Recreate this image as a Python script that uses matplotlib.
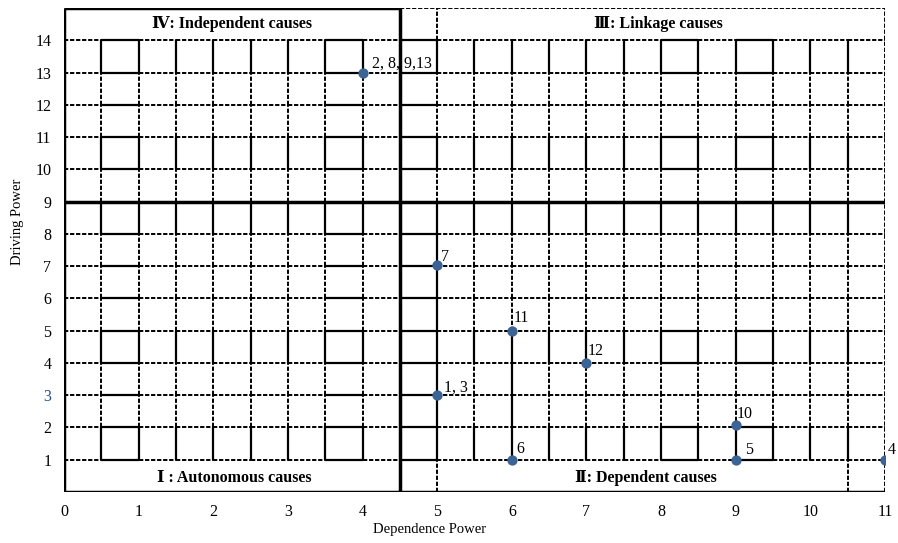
import matplotlib.pyplot as plt

# MICMAC style driving / dependence map
dependence = [4, 5, 6, 7, 5, 9, 6, 9, 11]
driving = [13, 7.05, 5, 4, 3, 2.08, 1, 1, 1]
point_labels = ["2, 8, 9,13", "7", "11", "12", "1, 3", "10", "6", "5", "4"]
label_offsets = [(7, 1), (3, 0), (1, 3), (1, 3), (5, 0), (1, 2), (3, 2), (7, 1), (2, 1)]

x_ticks = list(range(0, 12))
y_ticks = list(range(1, 15))

quadrants = ["Ⅳ: Independent causes", "Ⅲ: Linkage causes",
             "Ⅰ : Autonomous causes", "Ⅱ: Dependent causes"]
quadrant_pos = [(2.25, 14.5), (7.97, 14.5), (2.28, 0.42), (7.8, 0.42)]

SERIF = ["Liberation Serif", "DejaVu Serif", "DejaVu Sans"]
DASH = (0, (2.2, 0.9))

# table-like grid: which pieces are drawn solid
v_lines = [0.5 * k for k in range(1, 22) if k != 9]
solid_rows = [13, 10, 8, 4, 1]          # row band starting at y
h_lines = [y for y in range(1, 15) if y != 9]
solid_cols_all = [0.5, 3.5, 4.5]        # column band starting at x, every row
solid_cols_some = [8.0, 9.0]
solid_y_some = [14, 13, 11, 10, 5, 4, 2, 1]


def seg(ax, x0, y0, x1, y1, solid, lw):
    ax.plot([x0, x1], [y0, y1], color="black", lw=lw,
            ls="-" if solid else DASH,
            solid_capstyle="butt", dash_capstyle="butt", zorder=2)


fig = plt.figure(figsize=(8.98, 5.43), dpi=100)
ax = fig.add_axes([64 / 898, 1 - 492 / 543, (885 - 64) / 898, (492 - 8) / 543])
ax.set_xlim(0, 11)
ax.set_ylim(0, 15)
for s in ax.spines.values():
    s.set_visible(False)

# vertical grid
for x in v_lines:
    for r in range(1, 14):
        solid = r in solid_rows or (x == 5.0 and r < 9) or (x == 6.0 and r < 5)
        seg(ax, x, r, x, r + 1, solid, 1.6 if solid else 1.4)
seg(ax, 5, 14, 5, 15, False, 1.4)
seg(ax, 5, 0, 5, 1, False, 1.4)
seg(ax, 10.5, 0, 10.5, 1, False, 1.4)

# horizontal grid
for y in h_lines:
    for k in range(22):
        c = 0.5 * k
        solid = c in solid_cols_all or (c in solid_cols_some and y in solid_y_some)
        seg(ax, c, y, c + 0.5, y, solid, 1.6 if solid else 1.4)

# frame and quadrant dividers
seg(ax, 0, 0, 0, 15, True, 2.5)
seg(ax, 0, 0, 11, 0, True, 2.5)
seg(ax, 0, 15, 4.5, 15, True, 2.5)
seg(ax, 4.5, 15, 11, 15, False, 1.4)
seg(ax, 11, 0, 11, 15, False, 1.4)
seg(ax, 4.5, 0, 4.5, 15, True, 2.5)
seg(ax, 0, 9, 11, 9, True, 2.5)

ax.scatter(dependence, driving, s=55, color="#3B6396", zorder=5, linewidths=0)
for xv, yv, t, off in zip(dependence, driving, point_labels, label_offsets):
    ax.annotate(t, (xv, yv), xytext=off, textcoords="offset points",
                ha="left", va="bottom", fontsize=11.5, family=SERIF, zorder=6)

for t, (qx, qy) in zip(quadrants, quadrant_pos):
    ax.text(qx, qy, t, ha="center", va="center", fontsize=11.5,
            fontweight="bold", family=SERIF)

ax.set_xticks(x_ticks)
ax.set_yticks(y_ticks)
ax.tick_params(length=0, labelsize=11.5, pad=9)
for lab in ax.get_xticklabels() + ax.get_yticklabels():
    lab.set_family(SERIF)
for lab in ax.get_yticklabels():
    if lab.get_text() == "3":
        lab.set_color("#1F4E8C")

fig.text(430 / 898, 1 - 530 / 543, "Dependence Power", ha="center", va="center",
         fontsize=10.5, family=SERIF)
fig.text(18 / 898, 1 - 222 / 543, "Driving Power", ha="center", va="center",
         rotation=90, fontsize=10.5, family=SERIF)

fig.savefig("out.png", dpi=100)
